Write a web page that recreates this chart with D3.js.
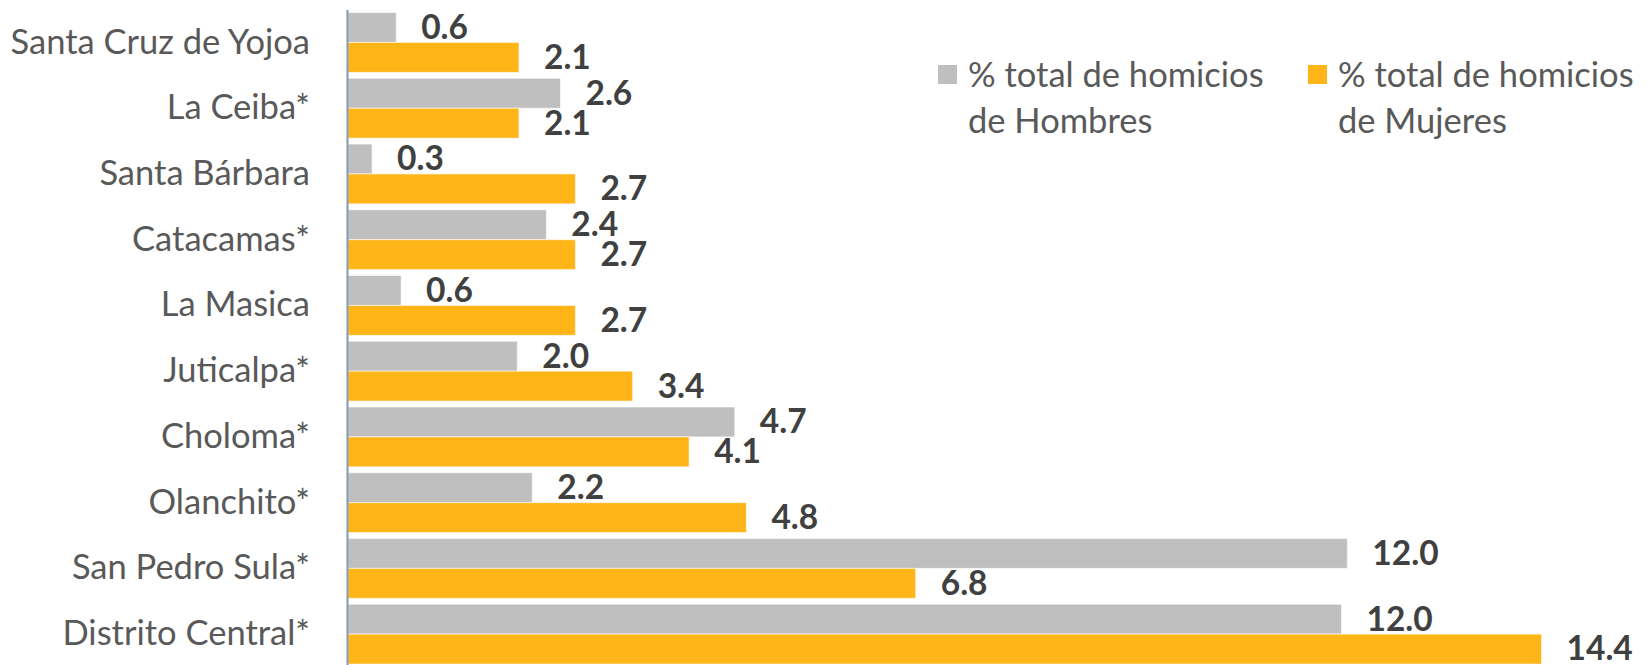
<!DOCTYPE html>
<html>
<head>
<meta charset="utf-8">
<script src="https://cdn.jsdelivr.net/npm/d3@7"></script>
<style>
  body { margin: 0; background: #fff; }
  svg { display: block; font-family: Lato, "Open Sans", sans-serif; }
</style>
</head>
<body>
<div id="chart"></div>
<script>
// data, top to bottom
const cities = ['Santa Cruz de Yojoa', 'La Ceiba*', 'Santa Bárbara', 'Catacamas*', 'La Masica',
  'Juticalpa*', 'Choloma*', 'Olanchito*', 'San Pedro Sula*', 'Distrito Central*'];
const hombres = [0.58, 2.56, 0.29, 2.39, 0.64, 2.04, 4.66, 2.22, 12.04, 11.97];
const mujeres = [2.06, 2.06, 2.74, 2.74, 2.74, 3.43, 4.11, 4.80, 6.84, 14.38];
const seriesKeys = ['hombres', 'mujeres'];
const legendLines = [
  ['% total de homicios', 'de Hombres'],
  ['% total de homicios', 'de Mujeres']
];

const w = 1647;
const h = 665;
const axisX = 347;
const colors = { hombres: '#bfbfbf', mujeres: '#ffb518' };

const rows = cities.map((c, i) => ({ city: c, hombres: hombres[i], mujeres: mujeres[i] }));

const svg = d3.select('#chart')
  .append('svg')
  .attr('width', w)
  .attr('height', h);

const xScale = d3.scaleLinear([0, 15], [axisX + 1, axisX + 1 + 15 * 83]);
const yScale = d3.scaleBand(cities, [9.6, 667]).paddingInner(0.09).paddingOuter(0.045);
const inner = d3.scaleBand(seriesKeys, [0, yScale.bandwidth()]);

// bars
const groups = svg.append('g')
  .selectAll('g')
  .data(rows)
  .join('g')
  .attr('transform', d => 'translate(0,' + yScale(d.city) + ')');

groups.selectAll('rect')
  .data(d => seriesKeys.map(k => ({ key: k, value: d[k] })))
  .join('rect')
  .attr('x', xScale(0))
  .attr('y', d => inner(d.key))
  .attr('width', d => xScale(d.value) - xScale(0))
  .attr('height', inner.bandwidth())
  .attr('fill', d => colors[d.key])
  .attr('stroke', '#fff')
  .attr('stroke-opacity', 0.6)
  .attr('stroke-width', 1);

groups.selectAll('text')
  .data(d => seriesKeys.map(k => ({ key: k, value: d[k] })))
  .join('text')
  .attr('x', d => xScale(d.value) + 25)
  .attr('y', d => inner(d.key) + inner.bandwidth() / 2)
  .attr('dy', '0.34em')
  .attr('font-size', 33.5)
  .attr('font-weight', 'bold')
  .attr('fill', '#404040')
  .text(d => d.value.toFixed(1));

// category axis
const yAxis = d3.axisLeft(yScale).tickSize(0).tickPadding(37);

svg.append('g')
  .attr('transform', 'translate(' + axisX + ',0)')
  .call(yAxis)
  .call(g => g.select('.domain').attr('stroke', '#8497b0').attr('stroke-width', 2))
  .call(g => g.selectAll('.tick text')
    .attr('font-size', 34.5)
    .attr('font-family', 'Lato, sans-serif')
    .attr('fill', '#595959'));

// legend
const legendX = [938, 1308];
const legend = svg.append('g')
  .selectAll('g')
  .data(seriesKeys)
  .join('g')
  .attr('transform', (d, i) => 'translate(' + legendX[i] + ',0)');

legend.append('rect')
  .attr('x', 0)
  .attr('y', 65)
  .attr('width', 19)
  .attr('height', 19)
  .attr('fill', d => colors[d]);

legend.append('text')
  .attr('font-size', 34.5)
  .attr('fill', '#595959')
  .selectAll('tspan')
  .data((d, i) => legendLines[i])
  .join('tspan')
  .attr('x', 30)
  .attr('y', (d, j) => 87 + j * 46)
  .text(d => d);
</script>
</body>
</html>
